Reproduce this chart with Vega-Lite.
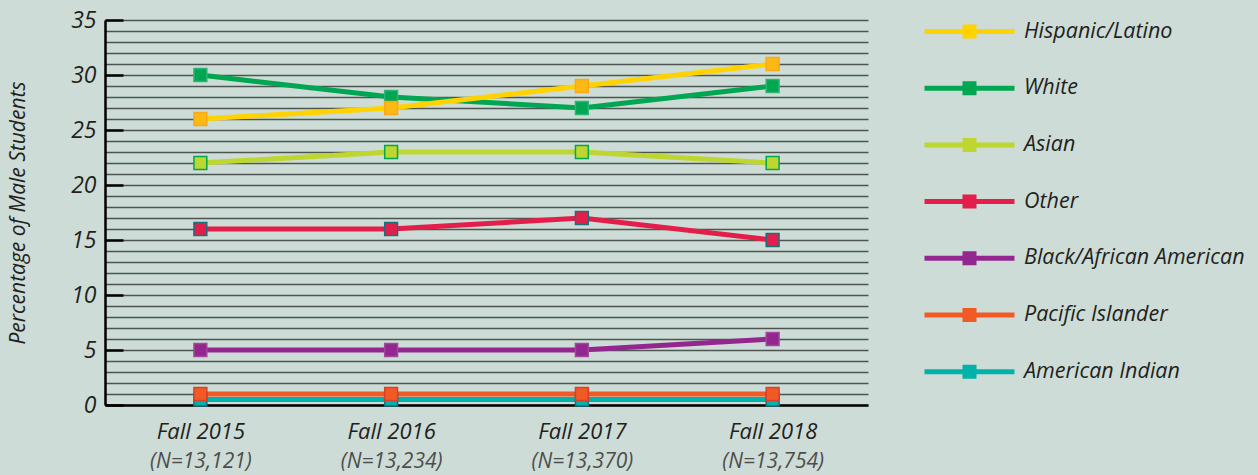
{
  "$schema": "https://vega.github.io/schema/vega-lite/v6.json",
  "width": 763,
  "height": 385,
  "autosize": "none",
  "padding": {"left": 105, "top": 20, "right": 390, "bottom": 70},
  "background": "#cddcd6",
  "config": {
    "view": {"stroke": null},
    "font": "Open Sans"
  },
  "data": {
    "values": [
      {"term": "Fall 2015|(N=13,121)", "group": "American Indian", "pct": 0.5},
      {"term": "Fall 2016|(N=13,234)", "group": "American Indian", "pct": 0.5},
      {"term": "Fall 2017|(N=13,370)", "group": "American Indian", "pct": 0.5},
      {"term": "Fall 2018|(N=13,754)", "group": "American Indian", "pct": 0.5},
      {"term": "Fall 2015|(N=13,121)", "group": "Pacific Islander", "pct": 1},
      {"term": "Fall 2016|(N=13,234)", "group": "Pacific Islander", "pct": 1},
      {"term": "Fall 2017|(N=13,370)", "group": "Pacific Islander", "pct": 1},
      {"term": "Fall 2018|(N=13,754)", "group": "Pacific Islander", "pct": 1},
      {"term": "Fall 2015|(N=13,121)", "group": "Black/African American", "pct": 5},
      {"term": "Fall 2016|(N=13,234)", "group": "Black/African American", "pct": 5},
      {"term": "Fall 2017|(N=13,370)", "group": "Black/African American", "pct": 5},
      {"term": "Fall 2018|(N=13,754)", "group": "Black/African American", "pct": 6},
      {"term": "Fall 2015|(N=13,121)", "group": "Other", "pct": 16},
      {"term": "Fall 2016|(N=13,234)", "group": "Other", "pct": 16},
      {"term": "Fall 2017|(N=13,370)", "group": "Other", "pct": 17},
      {"term": "Fall 2018|(N=13,754)", "group": "Other", "pct": 15},
      {"term": "Fall 2015|(N=13,121)", "group": "Asian", "pct": 22},
      {"term": "Fall 2016|(N=13,234)", "group": "Asian", "pct": 23},
      {"term": "Fall 2017|(N=13,370)", "group": "Asian", "pct": 23},
      {"term": "Fall 2018|(N=13,754)", "group": "Asian", "pct": 22},
      {"term": "Fall 2015|(N=13,121)", "group": "White", "pct": 30},
      {"term": "Fall 2016|(N=13,234)", "group": "White", "pct": 28},
      {"term": "Fall 2017|(N=13,370)", "group": "White", "pct": 27},
      {"term": "Fall 2018|(N=13,754)", "group": "White", "pct": 29},
      {"term": "Fall 2015|(N=13,121)", "group": "Hispanic/Latino", "pct": 26},
      {"term": "Fall 2016|(N=13,234)", "group": "Hispanic/Latino", "pct": 27},
      {"term": "Fall 2017|(N=13,370)", "group": "Hispanic/Latino", "pct": 29},
      {"term": "Fall 2018|(N=13,754)", "group": "Hispanic/Latino", "pct": 31}
    ]
  },
  "layer": [
    {
      "mark": {"type": "line", "strokeWidth": 5},
      "encoding": {
        "x": {
          "field": "term", "type": "ordinal", "sort": null,
          "scale": {"type": "point", "padding": 0.5},
          "axis": {
            "orient": "bottom",
            "title": null,
            "labelExpr": "split(datum.value, '|')[0]",
            "labelAngle": 0,
            "labelFont": "Open Sans",
            "labelFontStyle": "italic",
            "labelFontSize": 22,
            "labelColor": "#231f20",
            "labelPadding": 16,
            "ticks": false,
            "domainColor": "#000000",
            "domainWidth": 2.5,
            "grid": false
          }
        },
        "y": {
          "field": "pct", "type": "quantitative",
          "scale": {"domain": [0, 35], "nice": false},
          "axis": {
            "title": "Percentage of Male Students",
            "titleFont": "Open Sans",
            "titleFontStyle": "italic",
            "titleFontWeight": "normal",
            "titleFontSize": 21,
            "titleColor": "#231f20",
            "titlePadding": 42,
            "values": [0,1,2,3,4,5,6,7,8,9,10,11,12,13,14,15,16,17,18,19,20,21,22,23,24,25,26,27,28,29,30,31,32,33,34,35],
            "tickCount": 100,
            "format": "d",
            "labelOverlap": false,
            "labelExpr": "datum.value % 5 == 0 ? datum.label : ''",
            "labelFont": "Open Sans",
            "labelFontStyle": "italic",
            "labelFontSize": 23,
            "labelColor": "#231f20",
            "labelPadding": 27,
            "tickSize": -18,
            "tickWidth": 2.5,
            "tickColor": "#000000",
            "tickOpacity": {"condition": {"test": "datum.value % 5 == 0", "value": 1}, "value": 0},
            "domainColor": "#000000",
            "domainWidth": 2.5,
            "grid": true,
            "gridColor": "#4d5451",
            "gridWidth": 1.4
          }
        },
        "color": {
          "field": "group", "type": "nominal",
          "scale": {
            "domain": ["Hispanic/Latino","White","Asian","Other","Black/African American","Pacific Islander","American Indian"],
            "range": ["#ffd200","#00a651","#bed630","#e41e4b","#93278f","#f15a24","#00b2a9"]
          },
          "legend": {
            "title": null,
            "orient": "none",
            "legendX": 853,
            "legendY": 0,
            "padding": 0,
            "symbolType": "M-5,0H5M-0.5,-0.5H0.5V0.5H-0.5Z",
            "symbolSize": 324,
            "symbolStrokeWidth": 5,
            "symbolOpacity": 1,
            "labelOffset": 43,
            "labelFont": "Open Sans",
            "labelFontStyle": "italic",
            "labelFontSize": 21.5,
            "labelColor": "#231f20",
            "labelLimit": 400,
            "rowPadding": 27.7,
            "encode": {"symbols": {"update": {"fill": {"scale": "color", "field": "value"}, "stroke": {"scale": "color", "field": "value"}}}}
          }
        }
      }
    },
    {
      "mark": {"type": "point", "shape": "square", "filled": true, "size": 165, "strokeWidth": 1.5, "opacity": 1},
      "encoding": {
        "x": {
          "field": "term", "type": "ordinal", "sort": null,
          "scale": {"type": "point", "padding": 0.5},
          "axis": {
            "orient": "bottom",
            "title": null,
            "labelExpr": "split(datum.value, '|')[1]",
            "labelAngle": 0,
            "labelFont": "Open Sans",
            "labelFontStyle": "italic",
            "labelFontSize": 21,
            "labelColor": "#4d4d4d",
            "labelPadding": 45,
            "ticks": false,
            "domain": false,
            "grid": false
          }
        },
        "y": {"field": "pct", "type": "quantitative"},
        "fill": {
          "field": "group", "type": "nominal", "legend": null,
          "scale": {
            "domain": ["Hispanic/Latino","White","Asian","Other","Black/African American","Pacific Islander","American Indian"],
            "range": ["#fdb913","#00a651","#bed630","#e41e4b","#93278f","#f15a24","#00b2a9"]
          }
        },
        "stroke": {
          "field": "group", "type": "nominal", "legend": null,
          "scale": {
            "domain": ["Hispanic/Latino","White","Asian","Other","Black/African American","Pacific Islander","American Indian"],
            "range": ["#f7a81b","#2bb673","#00a651","#1b6f7c","#a2479d","#d8402a","#1b6f7c"]
          }
        }
      }
    }
  ],
  "resolve": {"axis": {"x": "independent"}}
}
